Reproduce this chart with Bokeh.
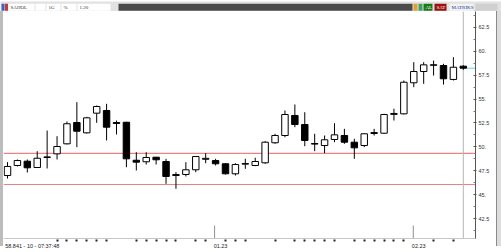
from bokeh.plotting import figure
from bokeh.models import Range1d, Span, FixedTicker, ColumnDataSource, Spacer
from bokeh.layouts import column, row
from bokeh.embed import file_html
from bokeh.resources import INLINE

# ---- data (daily candles) ----
opens = [47.00, 48.05, 48.50, 47.84, 48.90, 49.27, 50.32, 52.55, 51.47, 53.53,
         53.81, 52.55, 52.58, 48.60, 48.44, 48.92, 48.47, 47.10, 47.11, 47.60,
         48.70, 48.57, 48.23, 47.18, 48.20, 48.05, 48.33, 50.43, 51.19, 53.29,
         52.34, 50.35, 50.14, 50.77, 51.19, 50.49, 50.14, 51.40, 51.43, 53.40,
         53.46, 56.71, 57.89, 58.55, 58.52, 57.06, 58.45]
highs = [48.40, 48.68, 48.68, 49.55, 51.71, 51.12, 52.66, 54.68, 53.15, 54.33,
         54.51, 52.76, 52.62, 49.44, 49.44, 48.95, 48.75, 47.35, 48.40, 48.99,
         49.34, 48.75, 48.29, 48.29, 48.75, 48.86, 50.60, 51.37, 53.81, 54.44,
         53.63, 51.37, 51.19, 52.48, 51.89, 50.85, 51.43, 51.89, 53.46, 53.99,
         56.95, 58.87, 58.87, 59.04, 58.70, 59.39, 58.55]
lows = [46.69, 47.95, 47.32, 47.80, 47.74, 48.68, 50.25, 49.97, 51.40, 52.52,
        50.67, 51.30, 47.87, 47.53, 48.15, 48.15, 46.13, 45.61, 46.90, 47.35,
        48.29, 48.05, 47.11, 47.00, 47.70, 47.98, 48.23, 50.32, 51.01, 52.06,
        50.07, 49.55, 49.34, 50.49, 50.32, 48.75, 49.97, 51.19, 51.37, 52.76,
        53.39, 56.25, 56.60, 57.47, 56.53, 56.95, 58.07]
closes = [47.95, 48.57, 47.81, 48.81, 48.95, 50.04, 52.42, 51.64, 53.04, 54.23,
          52.06, 52.45, 48.75, 48.40, 48.89, 48.65, 46.90, 47.00, 47.60, 48.99,
          48.80, 48.23, 47.18, 48.15, 48.25, 48.47, 50.49, 51.19, 53.39, 52.34,
          50.67, 50.30, 50.74, 51.26, 50.49, 49.90, 51.37, 51.50, 53.39, 53.50,
          56.77, 57.89, 58.59, 58.60, 57.13, 58.34, 58.24]

support_levels = [49.31, 46.06]

y_ticks = [42.5, 45.0, 47.5, 50.0, 52.5, 55.0, 57.5, 60.0, 62.5]
y_tick_labels = ["42.5", "45.", "47.5", "50.", "52.5", "55.", "57.5", "60.", "62.5"]
y_minor = [41.25, 43.75, 46.25, 48.75, 51.25, 53.75, 56.25, 58.75, 61.25, 63.75]

x_label_pos = [2.5, 21.5, 41.5]
x_labels = ["58.841 - 10 - 07:37:48", "01.23", "02.23"]
x_dot_idx = [5, 6, 7, 8, 9, 10, 13, 14, 15, 16, 17, 19, 20, 22, 23, 24, 27, 29,
             30, 31, 32, 33, 35, 36, 37, 38, 39, 40, 43, 45]
month_sep_idx = [20.9, 40.95]

# ---- main chart ----
n = len(opens)
idx = list(range(n))
tops = [max(o, c) for o, c in zip(opens, closes)]
bots = [min(o, c) for o, c in zip(opens, closes)]
bots = [b if t - b > 0.06 else t - 0.06 for t, b in zip(tops, bots)]
fills = ["white" if c >= o else "black" for o, c in zip(opens, closes)]
src = ColumnDataSource(dict(idx=idx, high=highs, low=lows, top=tops, bottom=bots, fill=fills))

X0, X1 = -0.404, 47.23
Y0, Y1 = 40.406, 64.175

p = figure(frame_width=472, frame_height=227,
           x_range=Range1d(X0, X1), y_range=Range1d(Y0, Y1),
           y_axis_location="right", toolbar_location=None, output_backend="svg",
           min_border_left=0, min_border_right=21, min_border_top=0, min_border_bottom=8,
           background_fill_color="white", border_fill_color="white",
           outline_line_color=None)
p.grid.visible = False

for lv in support_levels:
    p.add_layout(Span(location=lv, dimension="width", line_color="#ee8080",
                      line_width=1.2, level="underlay"))
p.add_layout(Span(location=n - 1, dimension="height", line_color="#b4b4b4",
                  line_width=1, level="underlay"))

p.segment(x0=month_sep_idx, y0=[41.77] * len(month_sep_idx),
          x1=month_sep_idx, y1=[Y0] * len(month_sep_idx),
          line_color="#909090", line_width=1)

p.segment(x0=[n - 1 + 0.33], y0=[closes[-1]], x1=[X1], y1=[closes[-1]],
          line_color="#60d8d8", line_width=1)

p.segment(x0="idx", y0="low", x1="idx", y1="high", source=src,
          line_color="black", line_width=1)
p.vbar(x="idx", width=0.65, top="top", bottom="bottom", source=src,
       fill_color="fill", line_color="black", line_width=1)

ya = p.yaxis[0]
ya.ticker = FixedTicker(ticks=y_ticks, minor_ticks=y_minor)
ya.major_label_overrides = {t: s for t, s in zip(y_ticks, y_tick_labels)}
ya.axis_line_color = "#555555"
ya.major_tick_line_color = "#555555"
ya.minor_tick_line_color = "#777777"
ya.major_tick_in = 2
ya.major_tick_out = 1
ya.minor_tick_in = 2
ya.minor_tick_out = 0
ya.major_label_standoff = 2
ya.major_label_text_font = "Liberation Sans"
ya.major_label_text_font_size = "5.5px"
ya.major_label_text_color = "#333333"

xa = p.xaxis[0]
xa.ticker = FixedTicker(ticks=x_label_pos, minor_ticks=x_dot_idx)
xa.major_label_overrides = {t: s for t, s in zip(x_label_pos, x_labels)}
xa.axis_line_color = "#c8c8c8"
xa.major_tick_line_color = None
xa.major_tick_in = 0
xa.major_tick_out = 0
xa.minor_tick_line_color = "#222222"
xa.minor_tick_line_width = 2
xa.minor_tick_in = -1
xa.minor_tick_out = 3
xa.major_label_standoff = 1
xa.major_label_text_font = "Liberation Sans"
xa.major_label_text_font_size = "5.5px"
xa.major_label_text_color = "#222222"

# ---- top toolbar strip ----
tb = figure(width=501, height=11, x_range=Range1d(0, 501), y_range=Range1d(0, 11),
            toolbar_location=None, output_backend="svg", min_border=0,
            background_fill_color="#e2e2e2", border_fill_color="#e2e2e2",
            outline_line_color=None)
tb.axis.visible = False
tb.grid.visible = False
bar_l = [118, 1, 4.5, 8, 35, 46, 61, 77, 413, 418, 423, 434, 449, 475]
bar_r = [412, 4, 7.5, 34, 45, 60, 76, 110, 417, 422, 432, 446, 473, 497]
bar_c = ["#4b4b4b", "#3a62c4", "#c43a3a", "white", "white", "white", "white", "white",
         "#e0a030", "#40a060", "#1a7a1a", "#9a1010", "#f2f2f2", "#d0d0d0"]
tb.quad(left=bar_l, right=bar_r, bottom=[1.8] * len(bar_l), top=[8.8] * len(bar_l),
        fill_color=bar_c, line_color=None)
tb.segment(x0=[0], y0=[0.5], x1=[501], y1=[0.5], line_color="#b0b0b0", line_width=1)
tb_text_x = [10, 48, 63, 79, 425, 436, 451]
tb_text = ["SAHOL", "1G", "%", "1.20", "AL", "SAT", "MATRIKS"]
tb_text_c = ["#333333", "#333333", "#333333", "#333333", "white", "white", "#2040a0"]
tb.text(x=tb_text_x, y=[5.3] * len(tb_text_x), text=tb_text, text_color=tb_text_c,
        text_font_size="5px", text_baseline="middle", text_font="Liberation Sans")

# ---- bottom status strip ----
bb = figure(width=501, height=6, x_range=Range1d(0, 501), y_range=Range1d(0, 6),
            toolbar_location=None, output_backend="svg", min_border=0,
            background_fill_color="#e8e8e8", border_fill_color="#e8e8e8",
            outline_line_color=None)
bb.axis.visible = False
bb.grid.visible = False
bb.quad(left=[0, 373, 387, 477], right=[77, 379, 393, 484], bottom=[0, 0, 0, 0], top=[3, 3, 3, 3],
        fill_color=["#555555", "#333333", "#333333", "#3a62c4"], line_color=None)
bb.segment(x0=[0], y0=[5.5], x1=[501], y1=[5.5], line_color="#b8b8b8", line_width=1)

left_strip = Spacer(width=3, height=235, styles={"background-color": "#bcbcbc"})
right_strip = Spacer(width=5, height=235, styles={"background-color": "#dcdcdc",
                                                  "border-left": "1px solid #8a8a8a",
                                                  "box-sizing": "border-box"})

layout = column(tb, row(left_strip, p, right_strip), bb)

open("out.html", "w").write(file_html(layout, INLINE))
